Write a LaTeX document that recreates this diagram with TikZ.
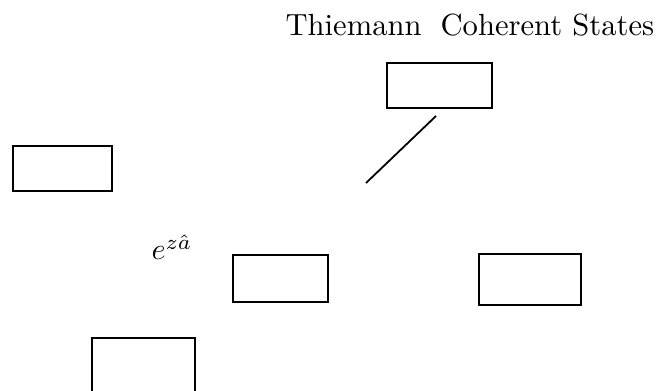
\documentclass[tikz,border=0pt]{standalone}
\begin{document}
\begin{tikzpicture}[x={(0.3333pt,0)}, y={(0,-0.3333pt)},
  blank/.style={draw, line width=0.7pt, inner sep=0pt, minimum width=#1},
  lbl/.style={inner sep=0pt, anchor=base west, font=\fontsize{10.2}{12}\selectfont}]
  \useasboundingbox (0,0) rectangle (659,391);
  % empty frames
  \node[blank=104.7pt/3, minimum height=44.7pt/3] (top)    at (439.5,85.5) {};
  \node[blank=98.7pt/3,  minimum height=44.7pt/3] (left)   at (62.5,168.5) {};
  \node[blank=94.7pt/3,  minimum height=46.7pt/3] (mid)    at (280.5,278.5) {};
  \node[blank=101.7pt/3, minimum height=50.7pt/3] (right)  at (530,279.5) {};
  \node[blank=102.7pt/3, minimum height=70pt/3]   (bottom) at (143.5,373) {};
  % labels
  \node[lbl] (thiemann) at (285,35.5) {Thiemann};
  \node[lbl] (coherent) at (440,35.5) {Coherent States};
  \node[lbl] (expo)     at (151,260)  {$e^{z\hat{a}}$};
  % free-standing stroke below the top frame
  \coordinate (s1) at (436,116);
  \coordinate (s2) at (366,183);
  \draw[line width=0.6pt] (s1) -- (s2);
\end{tikzpicture}
\end{document}
